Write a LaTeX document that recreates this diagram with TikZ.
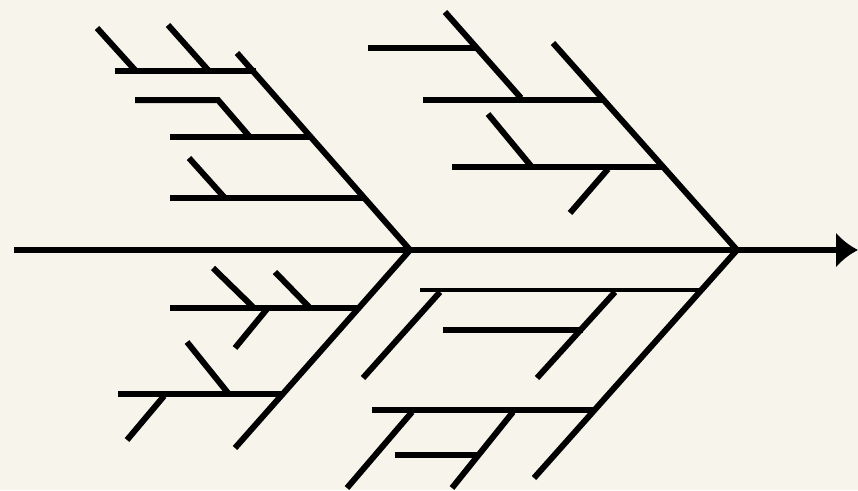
\documentclass[tikz,border=0pt]{standalone}
\usetikzlibrary{arrows.meta}
\definecolor{paper}{RGB}{246,244,235}
\tikzset{
  bone/.style={line width=6pt, black},
  thinbone/.style={line width=4.5pt, black},
  spine/.style={line width=6.5pt, black}
}
\begin{document}
\begin{tikzpicture}[x=1pt,y=-1pt]
\fill[paper] (0,0) rectangle (858,490);
\useasboundingbox (0,0) rectangle (858,490);
\coordinate (tail) at (14,250);
\coordinate (head) at (858,250);
\coordinate (h1) at (410,250);
\coordinate (h2) at (737,250);
% spine
\draw[spine,-{Latex[length=22pt,width=36pt]}] (tail) -- (head);
% first fish: upper
\draw[bone] (237,53) -- (h1);
\draw[bone] (115,71) -- (256,71);
\draw[bone] (135,100) -- (218,100) -- (249,136);
\draw[bone] (170,137) -- (312,137);
\draw[bone] (170,198) -- (365,198);
\draw[bone] (97,28) -- (135,70);
\draw[bone] (168,25) -- (208,70);
\draw[bone] (189,158) -- (224,197);
% first fish: lower
\draw[bone] (h1) -- (235,448);
\draw[bone] (170,308) -- (359,308);
\draw[bone] (118,394) -- (283,394);
\draw[bone] (213,268) -- (253,307);
\draw[bone] (275,272) -- (309,307);
\draw[bone] (267,309) -- (235,348);
\draw[bone] (187,342) -- (228,393);
\draw[bone] (164,396) -- (127,440);
% second fish: upper
\draw[bone] (553,43) -- (h2);
\draw[bone] (368,48) -- (475,48);
\draw[bone] (445,12) -- (521,98);
\draw[bone] (423,100) -- (604,100);
\draw[bone] (488,114) -- (531,166);
\draw[bone] (452,167) -- (663,167);
\draw[bone] (608,169) -- (570,213);
% second fish: lower
\draw[bone] (h2) -- (534,478);
\draw[thinbone] (420,290) -- (702,290);
\draw[bone] (440,292) -- (363,378);
\draw[bone] (443,330) -- (583,330);
\draw[bone] (615,292) -- (537,378);
\draw[bone] (372,410) -- (596,410);
\draw[bone] (412,412) -- (347,488);
\draw[bone] (395,455) -- (477,455);
\draw[bone] (513,412) -- (452,488);
\end{tikzpicture}
\end{document}
